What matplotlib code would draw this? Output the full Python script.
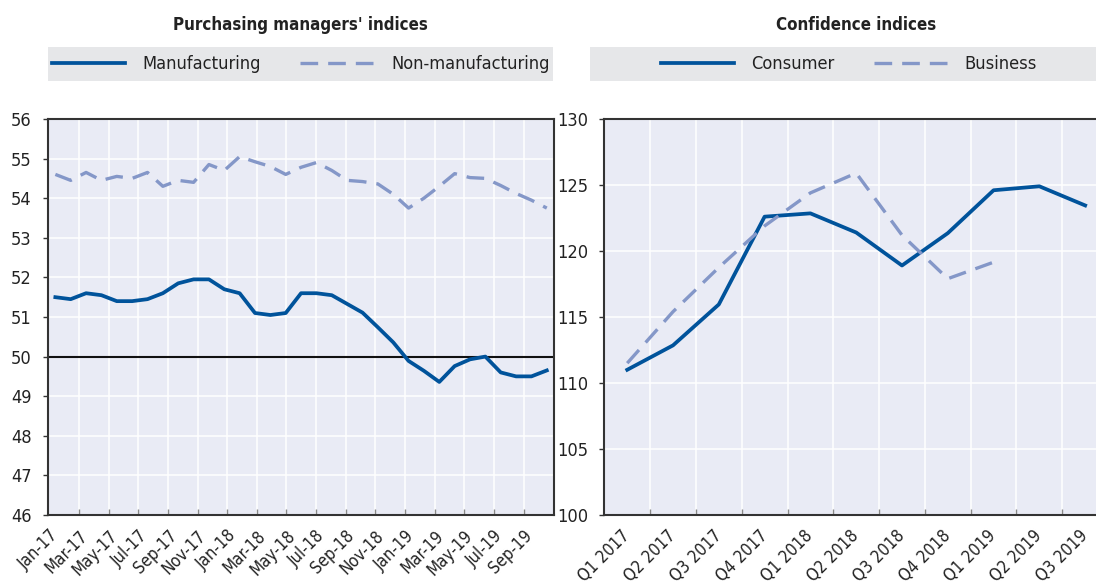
import matplotlib
matplotlib.use("Agg")
import matplotlib.pyplot as plt
from matplotlib.patches import Rectangle
from matplotlib import font_manager
import numpy as np

# narrow font if there is one, else the closest installed
_names = {f.name for f in font_manager.fontManager.ttflist}
_stretches = {(f.name, f.stretch) for f in font_manager.fontManager.ttflist}
if 'Liberation Sans Narrow' in _names:
    FAMILY = ['Liberation Sans Narrow', 'DejaVu Sans']
    SCALE = 1.0
elif ('DejaVu Sans', 'condensed') in _stretches or ('DejaVu Sans', 600) in _stretches:
    FAMILY = ['DejaVu Sans']
    plt.rcParams['font.stretch'] = 'condensed'
    SCALE = 0.87
else:
    FAMILY = ['Liberation Sans', 'DejaVu Sans']
    SCALE = 0.83
plt.rcParams['font.family'] = FAMILY

# Purchasing managers' indices, monthly Jan-17 .. Sep-19
months = ["Jan-17", "Feb-17", "Mar-17", "Apr-17", "May-17", "Jun-17", "Jul-17", "Aug-17",
          "Sep-17", "Oct-17", "Nov-17", "Dec-17", "Jan-18", "Feb-18", "Mar-18", "Apr-18",
          "May-18", "Jun-18", "Jul-18", "Aug-18", "Sep-18", "Oct-18", "Nov-18", "Dec-18",
          "Jan-19", "Feb-19", "Mar-19", "Apr-19", "May-19", "Jun-19", "Jul-19", "Aug-19",
          "Sep-19"]
manufacturing = [51.5, 51.45, 51.6, 51.55, 51.4, 51.4, 51.45, 51.6, 51.85, 51.95, 51.95,
                 51.7, 51.6, 51.1, 51.05, 51.1, 51.6, 51.6, 51.55, 51.33, 51.11, 50.74,
                 50.36, 49.89, 49.64, 49.36, 49.76, 49.93, 50.0, 49.6, 49.5, 49.5, 49.65]
non_manufacturing = [54.6, 54.45, 54.65, 54.45, 54.55, 54.5, 54.65, 54.3, 54.45, 54.4,
                     54.85, 54.7, 55.05, 54.92, 54.8, 54.6, 54.78, 54.9, 54.7, 54.45,
                     54.42, 54.36, 54.1, 53.75, 54.0, 54.3, 54.62, 54.52, 54.5, 54.32,
                     54.12, 53.95, 53.75]
month_labels = months[::2]

# Confidence indices, quarterly
quarters = ["Q1 2017", "Q2 2017", "Q3 2017", "Q4 2017", "Q1 2018", "Q2 2018",
            "Q3 2018", "Q4 2018", "Q1 2019", "Q2 2019", "Q3 2019"]
consumer = [111.0, 112.85, 115.95, 122.6, 122.85, 121.4, 118.9, 121.35, 124.6, 124.9, 123.45]
business = [111.5, 115.4, 118.75, 121.9, 124.4, 125.9, 121.2, 117.9, 119.15]

DARK = "#00539b"
LIGHT = "#8497c8"
BG = "#e9ebf5"
LEG_BG = "#e6e7e9"
SPINE = "#333333"
DASH = (0, (5.3, 3.0))
FS = 15 * SCALE
XFS = 14 * SCALE
TITLE_FS = 14 * SCALE


def style_axes(ax):
    ax.set_facecolor(BG)
    for s in ax.spines.values():
        s.set_color(SPINE)
        s.set_linewidth(1.5)
    ax.grid(True, which='minor', axis='x', color='white', linewidth=1.1)
    ax.grid(True, which='major', axis='y', color='white', linewidth=1.1)
    ax.set_axisbelow(True)
    ax.tick_params(axis='y', which='major', direction='out', length=3.5, width=1,
                   color=SPINE, pad=8, labelsize=FS, labelcolor='#222222')
    ax.tick_params(axis='x', which='major', length=0, pad=13, labelsize=XFS,
                   labelcolor='#222222')
    ax.tick_params(axis='x', which='minor', direction='in', length=4, width=1,
                   color='#888888')
    for lab in ax.get_xticklabels():
        lab.set_rotation(45)
        lab.set_rotation_mode('anchor')
        lab.set_ha('right')
        lab.set_va('center')


def main():
    fig = plt.figure(figsize=(10.96, 5.87), dpi=100)

    # legend backgrounds
    fig.patches.append(Rectangle((0.0438, 0.862), 0.4608, 0.058, transform=fig.transFigure,
                                 facecolor=LEG_BG, edgecolor='none', zorder=-5))
    fig.patches.append(Rectangle((0.5383, 0.862), 0.4726, 0.058, transform=fig.transFigure,
                                 facecolor=LEG_BG, edgecolor='none', zorder=-5))

    # left panel
    ax1 = fig.add_axes([0.0435, 0.1227, 0.4624, 0.6746])
    x1 = np.arange(len(months))
    ax1.plot(x1, manufacturing, color=DARK, lw=2.7, label="Manufacturing")
    ax1.plot(x1, non_manufacturing, color=LIGHT, lw=2.4, linestyle=DASH,
             label="Non-manufacturing")
    ax1.axhline(50, color='#111111', lw=1.5, zorder=1.5)
    ax1.set_xlim(-0.5, len(months) - 0.5)
    ax1.set_ylim(46, 56)
    ax1.set_yticks(np.arange(46, 57, 1))
    step = 1.93
    ax1.set_xticks(np.arange(len(month_labels)) * step)
    ax1.set_xticklabels(month_labels)
    ax1.set_xticks(1.54 + np.arange(len(month_labels) - 1) * step, minor=True)
    style_axes(ax1)

    # right panel
    ax2 = fig.add_axes([0.5514, 0.1227, 0.4596, 0.6746])
    x2 = np.arange(len(quarters))
    ax2.plot(x2, consumer, color=DARK, lw=2.7, label="Consumer")
    ax2.plot(x2[:len(business)], business, color=LIGHT, lw=2.4, linestyle=DASH,
             label="Business")
    ax2.set_xlim(-0.5, len(quarters) - 0.5)
    ax2.set_ylim(100, 130)
    ax2.set_yticks(np.arange(100, 131, 5))
    ax2.set_xticks(x2)
    ax2.set_xticklabels(quarters)
    ax2.set_xticks(x2[:-1] + 0.5, minor=True)
    style_axes(ax2)

    for ax, cx in ((ax1, 0.2742), (ax2, 0.7746)):
        h, l = ax.get_legend_handles_labels()
        leg = fig.legend(h, l, loc='center', bbox_to_anchor=(cx, 0.891),
                         bbox_transform=fig.transFigure, ncol=2, frameon=False,
                         fontsize=FS, handlelength=3.5 / SCALE,
                         handletextpad=0.85 / SCALE, columnspacing=1.9 / SCALE)
        for t in leg.get_texts():
            t.set_color('#222222')

    fig.text(0.2742, 0.957, "Purchasing managers' indices", ha='center', va='center',
             fontsize=TITLE_FS, fontweight='bold', color='#222222')
    fig.text(0.781, 0.957, "Confidence indices", ha='center', va='center',
             fontsize=TITLE_FS, fontweight='bold', color='#222222')

    fig.savefig("out.png", dpi=100)


if __name__ == "__main__":
    main()
